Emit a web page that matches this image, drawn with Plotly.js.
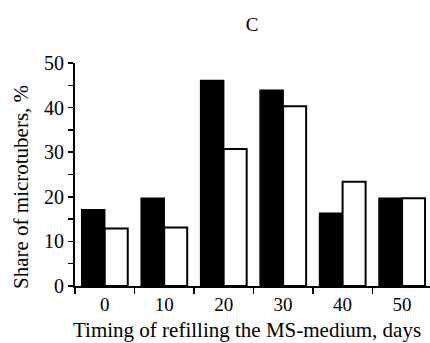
<!DOCTYPE html>
<html>
<head>
<meta charset="utf-8">
<script src="https://cdn.plot.ly/plotly-3.0.1.min.js"></script>
<style>html,body{margin:0;padding:0;background:#fff;}#chart{width:430px;height:343px;}</style>
</head>
<body>
<div id="chart"></div>
<script>
const categories = ["0", "10", "20", "30", "40", "50"];
const seriesBlack = [17.1, 19.7, 46.1, 43.9, 16.3, 19.7];
const seriesWhite = [12.9, 13.1, 30.7, 40.3, 23.4, 19.7];
const yTicks = [0, 10, 20, 30, 40, 50];

const fontFam = '"Liberation Serif", "Times New Roman", serif';

const traces = [
  {type: 'bar', x: categories, y: seriesBlack, marker: {color: '#000', line: {color: '#000', width: 1.5}}, showlegend: false},
  {type: 'bar', x: categories, y: seriesWhite, marker: {color: '#fff', line: {color: '#000', width: 2}}, showlegend: false}
];

const layout = {
  width: 430, height: 343,
  margin: {l: 75, r: 0, t: 63, b: 57},
  paper_bgcolor: '#fff', plot_bgcolor: '#fff',
  font: {family: fontFam, color: '#000', size: 19},
  barmode: 'group', bargap: 0.226, bargroupgap: 0,
  title: {text: 'C', font: {family: fontFam, size: 19, color: '#000'}, x: 252/430, xref: 'container', xanchor: 'center', y: 1 - 24/343, yref: 'container', yanchor: 'middle'},
  xaxis: {
    type: 'category', range: [-0.5, 5.47], tickson: 'boundaries',
    showline: true, linecolor: '#000', linewidth: 2,
    ticks: 'outside', ticklen: 6, tickwidth: 1.5, tickcolor: '#000',
    showgrid: false, zeroline: false,
    tickfont: {family: fontFam, size: 19, color: '#000'}
  },
  yaxis: {
    range: [0, 50], tickvals: yTicks, ticktext: yTicks.map(String),
    showline: true, linecolor: '#000', linewidth: 2,
    ticks: 'outside', ticklen: 5, tickwidth: 1.5, tickcolor: '#000',
    minor: {dtick: 5, ticks: 'outside', ticklen: 5, tickwidth: 1.5, tickcolor: '#000', showgrid: false},
    showgrid: false, zeroline: false,
    tickfont: {family: fontFam, size: 20, color: '#000'}
  },
  annotations: [
    {text: 'Share of microtubers, %', xref: 'paper', yref: 'paper', x: (21-75)/355, y: (286-187)/223, xanchor: 'center', yanchor: 'middle', textangle: -90, showarrow: false, font: {family: fontFam, size: 21, color: '#000'}},
    {text: 'Timing of refilling the MS-medium, days', xref: 'paper', yref: 'paper', x: (247-75)/355, y: (286-330)/223, xanchor: 'center', yanchor: 'middle', showarrow: false, font: {family: fontFam, size: 21, color: '#000'}}
  ]
};

Plotly.newPlot('chart', traces, layout, {displayModeBar: false, staticPlot: true});
</script>
</body>
</html>
